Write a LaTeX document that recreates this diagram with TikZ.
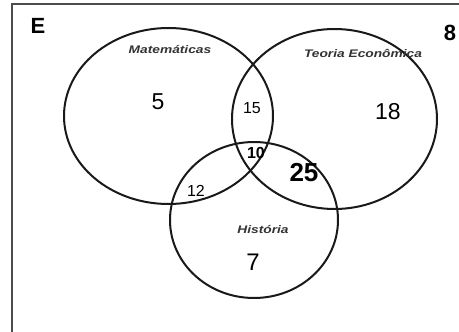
\documentclass[tikz,border=0pt]{standalone}
\usepackage{fontspec}
\setmainfont{Liberation Sans}
\begin{document}
\begin{tikzpicture}[x=1pt,y=-1pt,
  setline/.style={line width=2pt, black!90},
  framel/.style={line width=1.5pt, black!70},
  setlabel/.style={font=\fontsize{11}{13}\selectfont\bfseries\itshape, xscale=1.25, inner sep=0pt, text=black!80},
  bignum/.style={font=\fontsize{23}{26}\selectfont, inner sep=0pt},
  smallnum/.style={font=\fontsize{16}{18}\selectfont, inner sep=0pt}]
\useasboundingbox (0,0) rectangle (459,332);
\draw[framel] (12,333) -- (12,4) -- (460,4);
% sets
\draw[setline] (168.5,116) ellipse [x radius=104.5, y radius=88];
\draw[setline] (334.5,119) ellipse [x radius=102.5, y radius=90];
\draw[setline] (254,220) ellipse [x radius=84, y radius=78];
% labels
\node[font=\fontsize{22}{26}\selectfont\bfseries, inner sep=0pt] (E) at (38,26) {E};
\node[font=\fontsize{22}{26}\selectfont\bfseries, inner sep=0pt] (out) at (450,33) {8};
\node[setlabel] (mat) at (170,50) {Matemáticas};
\node[setlabel] (teo) at (363,53) {Teoria Econômica};
\node[setlabel] (his) at (263,230) {História};
% numbers
\node[bignum] (n5) at (158,102) {5};
\node[smallnum] (n15) at (252,108) {15};
\node[bignum] (n18) at (388,112) {18};
\node[smallnum, font=\fontsize{16}{18}\selectfont\bfseries] (n10) at (256,153) {10};
\node[font=\fontsize{26}{30}\selectfont\bfseries, inner sep=0pt] (n25) at (304,173) {25};
\node[smallnum] (n12) at (196,191) {12};
\node[font=\fontsize{24}{28}\selectfont, inner sep=0pt] (n7) at (253,262) {7};
\end{tikzpicture}
\end{document}
